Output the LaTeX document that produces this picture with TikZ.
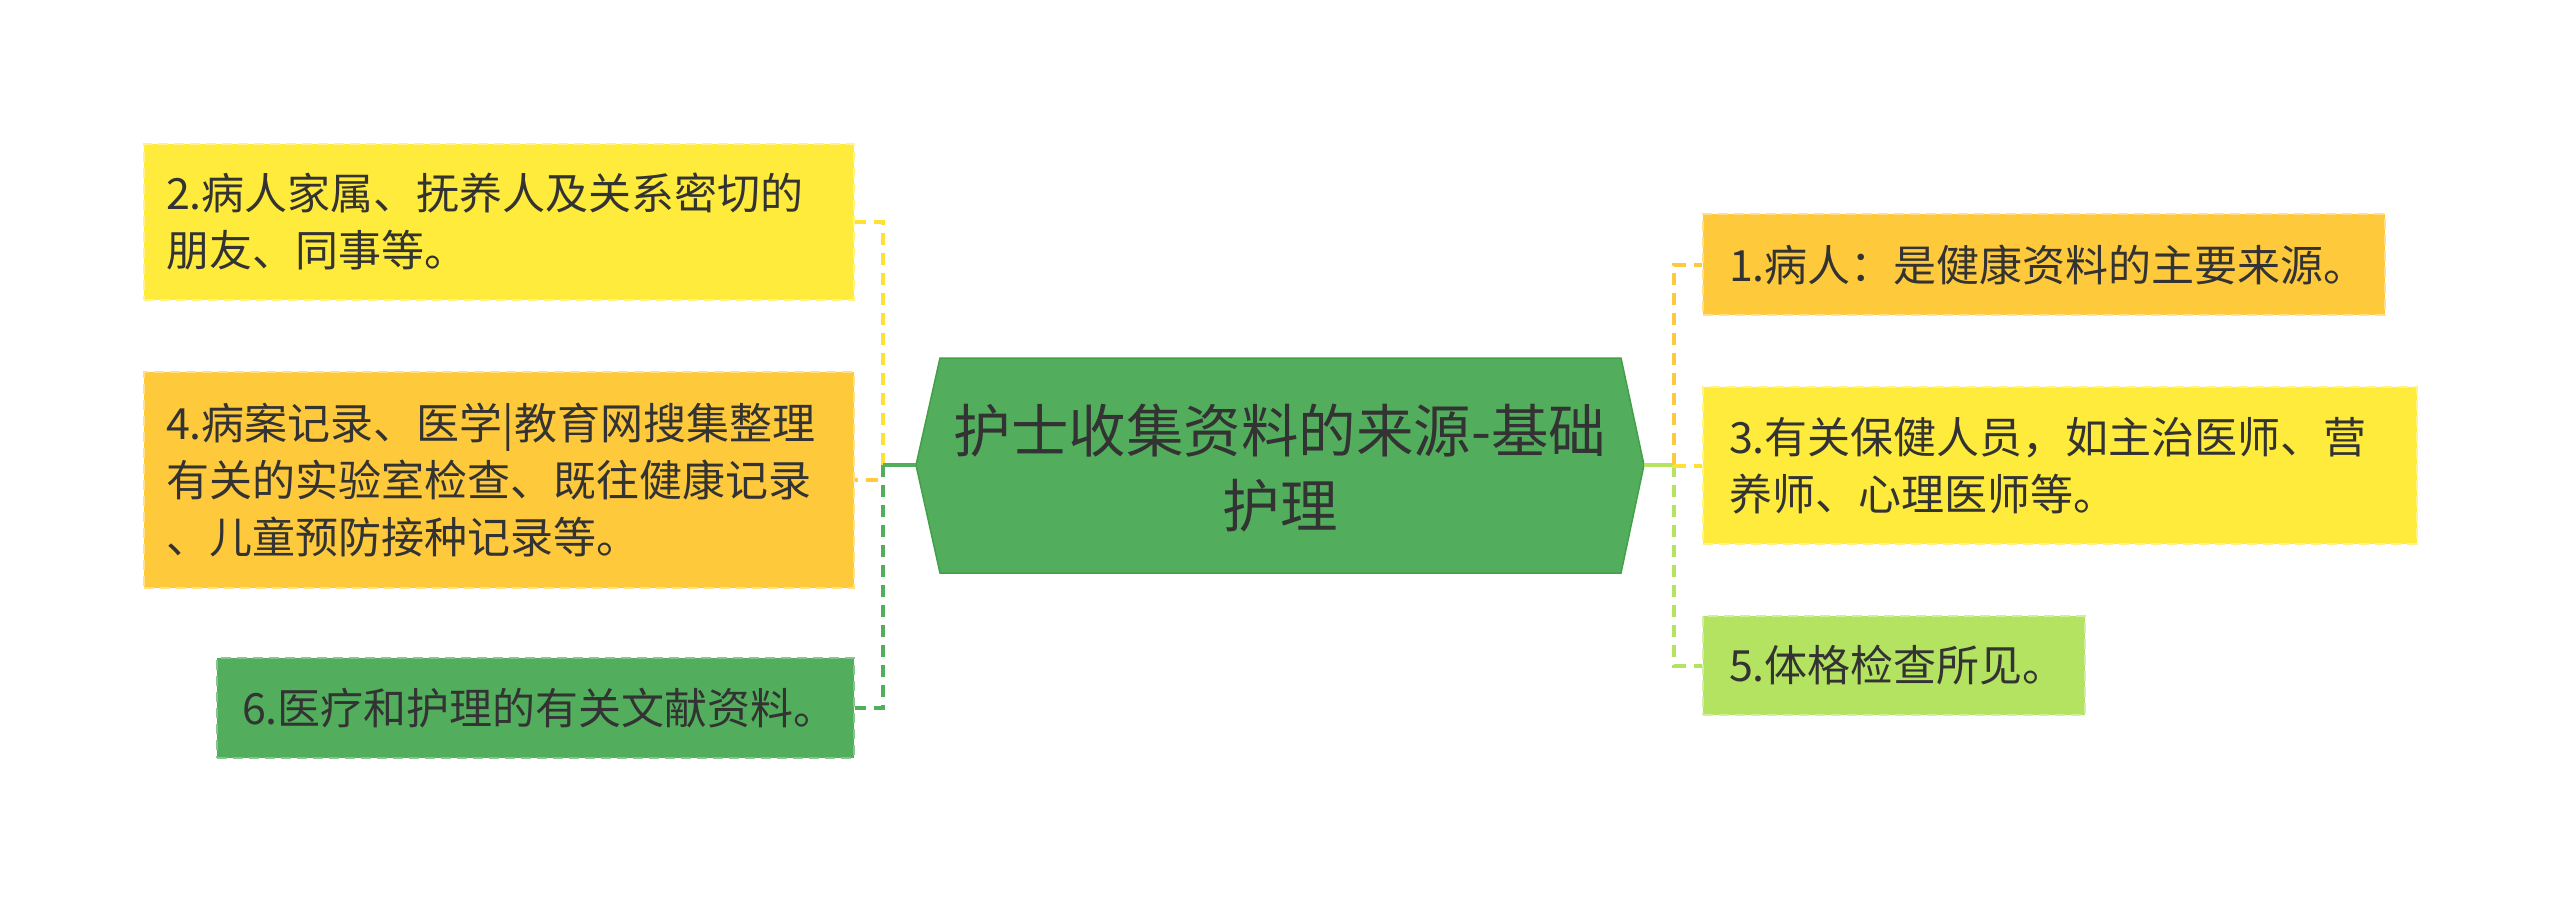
\documentclass[tikz,border=0pt]{standalone}
\usepackage{fontspec}
\newfontfamily\cjk{Noto Sans CJK SC}
\definecolor{cyel}{HTML}{FFEB3B}
\definecolor{cora}{HTML}{FFC93C}
\definecolor{cgrn}{HTML}{52AE5C}
\definecolor{clgr}{HTML}{B4E361}
\definecolor{ctxt}{HTML}{333333}
\definecolor{chexb}{HTML}{43A047}
\tikzset{
  leaf/.style={rectangle, inner xsep=22pt, inner ysep=0pt, align=left, text=ctxt,
    font=\cjk\fontsize{43}{57}\selectfont, dash pattern=on 10pt off 6pt, line width=2pt},
  conn/.style={line width=4pt, dash pattern=on 12pt off 8pt},
  stem/.style={line width=4pt}
}
\begin{document}
\begin{tikzpicture}[x=1pt,y=-1pt]
\useasboundingbox (0,0) rectangle (2560,903);
% central hexagon
\coordinate (hl) at (916,465);
\coordinate (hr) at (1644,465);
\filldraw[fill=cgrn, draw=chexb, line width=1.5pt]
  (hl) -- (940,358) -- (1621,358) -- (hr) -- (1621,573) -- (940,573) -- cycle;
\node[align=center, text=ctxt, font=\cjk\fontsize{57.5}{75}\selectfont] (c) at (1280,468)
  {护士收集资料的来源-基础\\护理};
% left boxes
\node[leaf, fill=cyel, draw=cyel!60!white, text width=666pt, minimum height=156pt] (b2) at (499,222)
  {2.病人家属、抚养人及关系密切的\\朋友、同事等。};
\node[leaf, fill=cora, draw=cora!60!white, text width=666pt, minimum height=216pt] (b4) at (499,480)
  {4.病案记录、医学|教育网搜集整理\\有关的实验室检查、既往健康记录\\、儿童预防接种记录等。};
\node[leaf, fill=cgrn, draw=cgrn!70!white, text width=587pt, minimum height=100pt, inner xsep=25pt] (b6) at (535.5,708)
  {6.医疗和护理的有关文献资料。};
% right boxes
\node[leaf, fill=cora, draw=cora!60!white, text width=630pt, minimum height=101pt, inner xsep=26pt] (b1) at (2044,264.5)
  {1.病人：是健康资料的主要来源。};
\node[leaf, fill=cyel, draw=cyel!60!white, text width=662pt, minimum height=157pt, inner xsep=26pt] (b3) at (2060,465.5)
  {3.有关保健人员，如主治医师、营\\养师、心理医师等。};
\node[leaf, fill=clgr, draw=clgr!60!white, text width=330pt, minimum height=99pt, inner xsep=26pt] (b5) at (1894,665.5)
  {5.体格检查所见。};
% connectors
\coordinate (L) at (883,465);
\coordinate (R) at (1674,465);
\draw[conn, cyel!90!orange] (L) |- (b2.east);
\draw[conn, cora] (L) |- (b4.east);
\draw[conn, cgrn] (L) |- (b6.east);
\draw[stem, cgrn] (hl) -- (L);
\draw[conn, cora] (R) |- (b1.west);
\draw[conn, clgr] (R) |- (b5.west);
\draw[stem, clgr] (hr) -- (R);
\draw[conn, cyel!90!orange] (R) |- (b3.west);
\end{tikzpicture}
\end{document}
